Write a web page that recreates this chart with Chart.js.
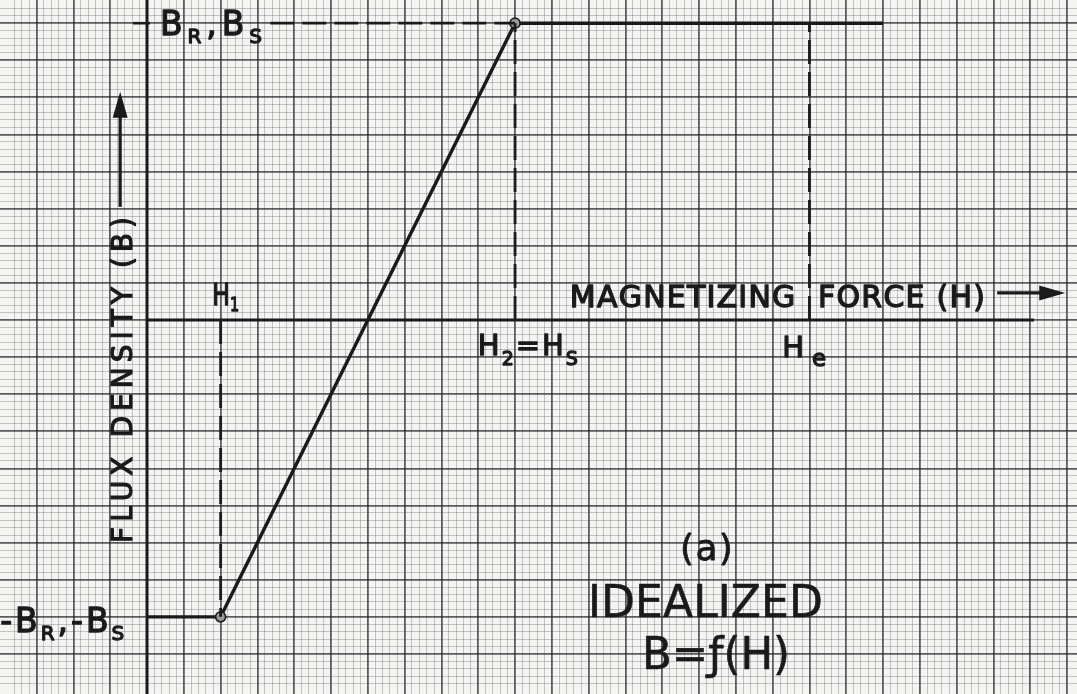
<!DOCTYPE html>
<html><head><meta charset="utf-8">
<script src="https://cdn.jsdelivr.net/npm/chart.js@4.4.0/dist/chart.umd.min.js"></script>
<style>html,body{margin:0;padding:0;background:#f4f4f2;} #wrap{width:1077px;height:694px;position:relative;}</style>
</head><body><div id="wrap"><canvas id="c"></canvas></div>
<script>
// Idealized B = f(H) curve, in units of major graph-paper squares
const curveH = [0, 2, 10, 20];
const curveB = [-8, -8, 8, 8];
// dashed drop lines from the kinks / He to the H axis
const markerH = [2, 10, 18];
const markerB = [-8, 8, 8];
const hAxisEnd = 24.1;
const topDashFrom = 3.35;
const topTickFrom = -0.38, topTickTo = 0.08;

// text (parts: [text, isSubscript])
const txtBsat = [['B',0],['R',1],[',',0],['B',0],['S',1]];
const txtBneg = [['-B',0],['R',1],[',-B',0],['S',1]];
const txtH1 = [['H',0],['1',1]];
const txtH2 = [['H',0],['2',1],['=H',0],['S',1]];
const txtHe = [['H',0],['e',1]];
const txtXTitle = [['MAGNETIZING  FORCE (H)',0]];
const txtYTitle = [['FLUX DENSITY (B)',0]];
const txtA = [['(a)',0]];
const txtIdeal = [['IDEALIZED',0]];
const txtFunc = [['B=ƒ(H)',0]];

const X_MIN = -3.995, X_MAX = 25.27, Y_MIN = -10.08, Y_MAX = 8.625;
const INK = '#1a1a1a';
const FONT = '"DejaVu Sans", sans-serif';

const labels = [
  {parts: txtBsat, h: 0.353, b: 7.68, fs: 33, ss: 20, dy: 8, w: 102, sw: 1.3},
  {parts: txtBneg, h: -3.99, b: -8.41, fs: 33, ss: 20, dy: 8, w: 124, sw: 1.3},
  {parts: txtH1, h: 1.77, b: 0.40, fs: 31, ss: 19, dy: 6, w: 27, sw: 1.3},
  {parts: txtH2, h: 8.99, b: -0.94, fs: 29, ss: 19, dy: 10, w: 100, sw: 1.3},
  {parts: txtHe, h: 17.26, b: -1.0, fs: 29, ss: 23, dy: 9, w: 44, sw: 1.3},
  {parts: txtXTitle, h: 11.49, b: 0.35, fs: 30, ss: 18, dy: 0, w: 415, sw: 1.3},
  {parts: txtYTitle, h: -0.41, b: -6.01, fs: 28, ss: 18, dy: 0, w: 326, rot: true, sw: 1.2},
  {parts: txtA, h: 14.48, b: -6.47, fs: 36, ss: 18, dy: 0, w: 53, sw: 0.8},
  {parts: txtIdeal, h: 11.98, b: -8.0, fs: 44, ss: 18, dy: 0, w: 235, sw: 0.6},
  {parts: txtFunc, h: 13.45, b: -9.41, fs: 44, ss: 18, dy: 0, w: 148, sw: 0.6}
];
const arrows = [
  {h1: 23.1, b1: 0.73, h2: 24.95, b2: 0.73},
  {h1: -0.73, b1: 3.05, h2: -0.73, b2: 6.15}
];

function pts(hs, bs){ return hs.map((h,i)=>({x:h, y:bs[i]})); }

function drawRich(ctx, L){
  const chars = [];
  L.parts.forEach(([t, sub])=>{
    for (const ch of t) chars.push({ch, sub});
  });
  let natural = 0;
  chars.forEach(c=>{
    ctx.font = (c.sub ? L.ss : L.fs) + 'px ' + FONT;
    c.w = ctx.measureText(c.ch).width; natural += c.w;
  });
  let sx = 1, ls = 0;
  if (L.w < natural) sx = L.w / natural;
  else if (chars.length > 1) ls = (L.w - natural) / (chars.length - 1);
  let x = 0;
  ctx.scale(sx, 1);
  ctx.lineWidth = L.sw; ctx.lineJoin = 'round';
  chars.forEach(c=>{
    ctx.font = (c.sub ? L.ss : L.fs) + 'px ' + FONT;
    ctx.fillText(c.ch, x, c.sub ? L.dy : 0);
    if (L.sw) ctx.strokeText(c.ch, x, c.sub ? L.dy : 0);
    x += c.w + ls;
  });
}

const paperPlugin = {
  id: 'paper',
  beforeDraw(chart){
    const {ctx, width, height} = chart;
    ctx.save(); ctx.fillStyle = '#f4f4f2'; ctx.fillRect(0,0,width,height); ctx.restore();
  },
  afterDatasetsDraw(chart){
    const {ctx, scales:{x: xs, y: ys}} = chart;
    ctx.save();
    ctx.fillStyle = INK; ctx.strokeStyle = INK;
    ctx.textBaseline = 'alphabetic'; ctx.textAlign = 'left';
    labels.forEach(L=>{
      ctx.save();
      const px = xs.getPixelForValue(L.h), py = ys.getPixelForValue(L.b);
      ctx.translate(px, py);
      if (L.rot) ctx.rotate(-Math.PI/2);
      drawRich(ctx, L);
      ctx.restore();
    });
    arrows.forEach(a=>{
      const x1 = xs.getPixelForValue(a.h1), y1 = ys.getPixelForValue(a.b1);
      const x2 = xs.getPixelForValue(a.h2), y2 = ys.getPixelForValue(a.b2);
      const ang = Math.atan2(y2-y1, x2-x1);
      const hl = 26, hw = 7.5;
      ctx.lineWidth = 3.2;
      ctx.beginPath(); ctx.moveTo(x1,y1);
      ctx.lineTo(x2 - Math.cos(ang)*hl*0.8, y2 - Math.sin(ang)*hl*0.8); ctx.stroke();
      ctx.beginPath();
      ctx.moveTo(x2, y2);
      ctx.lineTo(x2 - Math.cos(ang)*hl - Math.sin(ang)*hw, y2 - Math.sin(ang)*hl + Math.cos(ang)*hw);
      ctx.lineTo(x2 - Math.cos(ang)*hl + Math.sin(ang)*hw, y2 - Math.sin(ang)*hl - Math.cos(ang)*hw);
      ctx.closePath(); ctx.fill();
    });
    ctx.restore();
  }
};

function isMult(v, m){ const r = v / m; return Math.abs(r - Math.round(r)) < 1e-6; }
function gridColor(c){
  const v = c.tick ? c.tick.value : NaN;
  if (isMult(v, 1)) return 'rgba(35,35,35,0.72)';
  if (isMult(v, 0.2)) return 'rgba(60,60,60,0.27)';
  return 'rgba(0,0,0,0)';
}
function gridWidth(c){
  const v = c.tick ? c.tick.value : NaN;
  return isMult(v, 1) ? 1.8 : 1;
}
const scaleBase = {
  type: 'linear',
  border: {display: false},
  ticks: {display: false, stepSize: 0.2},
  grid: {color: gridColor, lineWidth: gridWidth, drawTicks: false, tickLength: 0}
};

const dashed = {borderColor: INK, borderWidth: 2.8, borderDash: [24, 8], pointRadius: 0, showLine: true, fill: false};
const datasets = [
  {data: pts([0,0],[Y_MIN-1, Y_MAX+1]), borderColor: INK, borderWidth: 3, pointRadius: 0, showLine: true},
  {data: pts([0,hAxisEnd],[0,0]), borderColor: INK, borderWidth: 3, pointRadius: 0, showLine: true},
  {data: pts([topTickFrom, topTickTo],[curveB[3], curveB[3]]), borderColor: INK, borderWidth: 2.6, pointRadius: 0, showLine: true},
  {data: pts([topDashFrom, curveH[2]],[curveB[2], curveB[2]]), ...dashed},
];
markerH.forEach((h,i)=>{
  datasets.push({data: pts([h,h],[0, markerB[i]]), ...dashed});
});
datasets.push({
  data: pts(curveH, curveB), borderColor: INK, borderWidth: 3.4, showLine: true,
  pointRadius: curveH.map((h,i)=> (i===1||i===2) ? 5 : 0),
  pointBackgroundColor: '#9a9a9a', pointBorderColor: '#222', pointBorderWidth: 1.8
});

new Chart(document.getElementById('c'), {
  type: 'scatter',
  data: {datasets},
  options: {
    responsive: true, maintainAspectRatio: false, animation: false,
    layout: {padding: 0},
    plugins: {legend: {display: false}, tooltip: {enabled: false}},
    scales: {
      x: {...scaleBase, min: X_MIN, max: X_MAX},
      y: {...scaleBase, min: Y_MIN, max: Y_MAX}
    }
  },
  plugins: [paperPlugin]
});
</script></body></html>
